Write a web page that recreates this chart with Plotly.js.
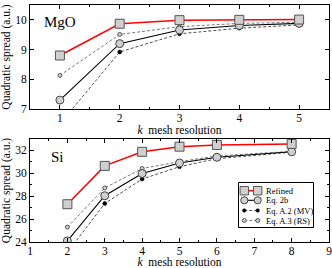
<!DOCTYPE html>
<html><head><meta charset="utf-8">
<script src="https://cdn.plot.ly/plotly-3.0.1.min.js"></script>
<style>html,body{margin:0;padding:0;background:#fff}#c{width:332px;height:268px}</style>
</head><body><div id="c"></div>
<script>
// MgO panel
const mgoK = [1, 2, 3, 4, 5];
const mgoRefined = [8.8, 9.87, 9.99, 10.0, 10.01];
const mgoEq2b = [7.3, 9.2, 9.66, 9.81, 9.88];
const mgoMV = [6.5, 8.92, 9.53, 9.72, 9.83];
const mgoRS = [8.13, 9.51, 9.77, 9.88, 9.92];
// Si panel
const siK = [2, 3, 4, 5, 6, 8];
const siRefined = [27.3, 30.65, 31.88, 32.33, 32.48, 32.57];
const siEq2b = [24.1, 28.04, 29.98, 30.9, 31.4, 31.88];
const siMV = [23.1, 27.36, 29.5, 30.58, 31.28, 31.85];
const siRS = [25.3, 28.72, 30.42, 31.02, 31.52, 31.92];
const seriesNames = ["Refined", "Eq. 2b", "Eq. A.2 (MV)", "Eq. A.3 (RS)"];
const panelLabels = ["MgO", "Si"];
const xTitle = "<i>k</i>  mesh resolution";
const yTitle = "Quadratic spread (a.u.)";

const FONT = "Liberation Serif, Times New Roman, serif";
const styles = [
  {line:{color:"#ff0000", width:1.5}, marker:{symbol:"square", size:9, color:"#cfcfcf", line:{color:"#555", width:1}}},
  {line:{color:"#000", width:1.1}, marker:{symbol:"circle", size:8, color:"#cfcfcf", line:{color:"#444", width:1}}},
  {line:{color:"#222", width:0.8, dash:"3px,2px"}, marker:{symbol:"circle", size:4, color:"#000", line:{color:"#000", width:0.5}}},
  {line:{color:"#555", width:0.8, dash:"3px,2px"}, marker:{symbol:"circle", size:4, color:"#cfcfcf", line:{color:"#333", width:0.8}}}
];
function mk(x, y, i, xa, ya){
  return {x:x, y:y, name:seriesNames[i], type:"scatter", mode:"lines+markers",
    xaxis:xa, yaxis:ya, showlegend:false,
    line:styles[i].line, marker:styles[i].marker};
}
const mgo = [mgoRefined, mgoEq2b, mgoMV, mgoRS];
const si = [siRefined, siEq2b, siMV, siRS];
const traces = [];
for (let i = 3; i >= 0; i--) traces.push(mk(mgoK, mgo[i], i, "x", "y"));
for (let i = 3; i >= 0; i--) traces.push(mk(siK, si[i], i, "x2", "y2"));

// ---- key (legend) drawn as layout decoration, positioned in pixels ----
const M = {l:30, r:3, t:5, b:26}, W = 332, H = 268;
const PH = H - M.t - M.b;
const px = v => (v - M.l) / (W - M.l - M.r);
const py = v => (H - M.b - v) / PH;
const shapes = [{type:"rect", xref:"paper", yref:"paper", x0:px(238.5), x1:px(313.5), y0:py(227.5), y1:py(182.5),
  line:{color:"#000", width:1}, fillcolor:"#fff", layer:"above"}];
const annotations = [
  {text:panelLabels[0], xref:"x domain", yref:"y domain", x:0.04, y:0.837, xanchor:"left", yanchor:"middle", showarrow:false, font:{family:FONT, size:15}},
  {text:panelLabels[1], xref:"x2 domain", yref:"y2 domain", x:0.064, y:0.822, xanchor:"left", yanchor:"middle", showarrow:false, font:{family:FONT, size:15}}
];
const keyRowY = [190.7, 200.3, 210.5, 220.5];
const keyX0 = 244.3, keyX1 = 257.7, keyTextX = 263.5;
const keyMarkerHalf = [4.2, 3.6, 1.8, 2.0];
for (let i = 0; i < 4; i++) {
  const yy = py(keyRowY[i]);
  shapes.push({type:"line", xref:"paper", yref:"paper", x0:px(keyX0), x1:px(keyX1), y0:yy, y1:yy,
    line:{color:styles[i].line.color, width:styles[i].line.width, dash:styles[i].line.dash || "solid"}, layer:"above"});
  for (const kx of [keyX0, keyX1]) {
    const h = keyMarkerHalf[i];
    shapes.push({type: i === 0 ? "rect" : "circle", xref:"paper", yref:"paper",
      xsizemode:"pixel", ysizemode:"pixel", xanchor:px(kx), yanchor:yy,
      x0:-h, x1:h, y0:-h, y1:h, fillcolor:styles[i].marker.color,
      line:{color:styles[i].marker.line.color, width:styles[i].marker.line.width}, layer:"above"});
  }
  annotations.push({text:seriesNames[i], xref:"paper", yref:"paper", x:px(keyTextX), y:yy,
    xanchor:"left", yanchor:"middle", showarrow:false, font:{family:FONT, size:8.5, color:"#000"}});
}

const axBase = {showline:true, linecolor:"#000", linewidth:1, mirror:"ticks", ticks:"inside",
  ticklen:4, tickcolor:"#000", showgrid:false, zeroline:false, ticklabeloverflow:"allow",
  tickfont:{family:FONT, size:11.5, color:"#000"}};
const layout = {
  width:W, height:H, margin:M,
  paper_bgcolor:"#fff", plot_bgcolor:"#fff",
  font:{family:FONT, color:"#000"},
  showlegend:false,
  xaxis:Object.assign({}, axBase, {domain:[0,1], range:[0.5,5.5], dtick:1, anchor:"y",
    ticklabelstandoff:-2,
    minor:{dtick:0.5, ticklen:2, ticks:"inside", tickcolor:"#000"},
    title:{text:xTitle, font:{family:FONT, size:11.5}, standoff:3}}),
  yaxis:Object.assign({}, axBase, {domain:[py(109),1], range:[7,10.5], dtick:1, anchor:"x",
    title:{text:yTitle, font:{family:FONT, size:11.5}, standoff:4}}),
  xaxis2:Object.assign({}, axBase, {domain:[0,1], range:[1,9], dtick:1, anchor:"y2",
    ticklabelstandoff:-2, tick0:1,
    minor:{dtick:0.5, ticklen:2, ticks:"inside", tickcolor:"#000"},
    title:{text:xTitle, font:{family:FONT, size:11.5}, standoff:6}}),
  yaxis2:Object.assign({}, axBase, {domain:[0,py(139)], range:[24,33], dtick:2, anchor:"x2",
    minor:{dtick:1, ticklen:2, ticks:"inside", tickcolor:"#000"},
    title:{text:yTitle, font:{family:FONT, size:11.5}, standoff:4}}),
  shapes:shapes,
  annotations:annotations
};
Plotly.newPlot("c", traces, layout, {displayModeBar:false, staticPlot:true});
</script></body></html>
